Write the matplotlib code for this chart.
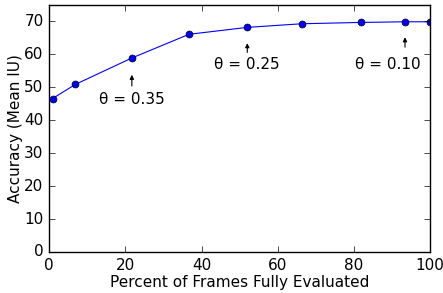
import matplotlib
matplotlib.use('Agg')
import matplotlib.pyplot as plt

# percent of frames fully evaluated vs accuracy
pct = [0.9, 6.9, 21.7, 36.7, 52.0, 66.3, 81.8, 93.4, 100.0]
acc = [46.6, 50.9, 58.9, 66.1, 68.2, 69.3, 69.7, 69.9, 69.9]

thetas = ['0.35', '0.25', '0.10']
theta_x = [21.7, 52.0, 93.4]

plt.style.use('classic')
fig = plt.figure(figsize=(4.43, 2.93), dpi=100)
ax = fig.add_axes([0.111, 0.140, 0.860, 0.843])

ax.plot(pct, acc, 'b-', marker='o', markersize=5, markerfacecolor='b',
        markeredgecolor='k', linewidth=0.8)

# annotations: arrow under a point, label below
arrow_top = [53.8, 63.4, 65.2]
arrow_bot = [50.4, 60.6, 62.2]
text_y = [46.3, 56.8, 56.8]
text_x = [21.7, 52.0, 89.0]
for i in range(len(thetas)):
    ax.annotate('', xy=(theta_x[i], arrow_top[i]), xytext=(theta_x[i], arrow_bot[i]),
                arrowprops=dict(arrowstyle='-|>', color='k', lw=0.8,
                                mutation_scale=6, shrinkA=0, shrinkB=0))
    ax.text(text_x[i], text_y[i], '\u03b8 = ' + thetas[i], ha='center', va='center',
            fontsize=11)

ax.set_xlim(0, 100)
ax.set_ylim(0, 75)
ax.set_xticks([0, 20, 40, 60, 80, 100])
ax.set_yticks([0, 10, 20, 30, 40, 50, 60, 70])
ax.tick_params(labelsize=11)
ax.set_xlabel('Percent of Frames Fully Evaluated', fontsize=11, labelpad=2)
ax.set_ylabel('Accuracy (Mean IU)', fontsize=11, labelpad=1)

fig.savefig('out.png', dpi=100)
